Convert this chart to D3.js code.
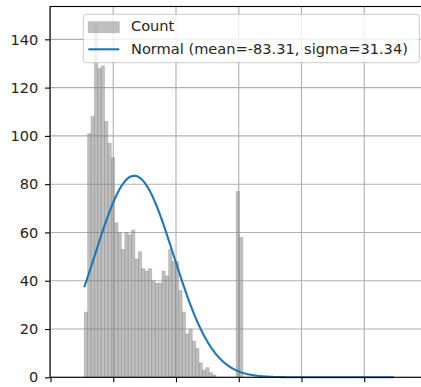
<!DOCTYPE html>
<html>
<head>
<meta charset="utf-8">
<script src="https://cdn.jsdelivr.net/npm/d3@7"></script>
<style>
  html, body { margin: 0; padding: 0; background: #fff; }
  svg { display: block; }
  text { font-family: "DejaVu Sans", sans-serif; fill: #262626; }
</style>
</head>
<body>
<div id="chart"></div>
<script>
// Histogram bin range and counts
const binStart = -123.1;
const binEnd = 3.3;
const counts = [
  27, 101, 108, 146, 128, 129, 106, 97, 91, 64,
  60, 53, 60, 59, 61, 49, 52, 45, 44, 45,
  40, 39, 39, 44, 42, 53, 48, 48, 36, 27,
  18, 20, 15, 12, 6, 3, 4, 2, 1, 0,
  0, 0, 0, 0, 0, 77, 58
];

// Fitted normal curve
const mean = -83.31;
const sigma = 31.34;
const curvePeak = 83.5;
const curveStart = -123.1;
const curveEnd = 123.6;

// Axis ticks
const xTicks = [-150, -100, -50, 0, 50, 100, 150];
const yTicks = [0, 20, 40, 60, 80, 100, 120, 140];

const legendLabels = ["Count", `Normal (mean=${mean.toFixed(2)}, sigma=${sigma.toFixed(2)})`];

const W = 421, H = 387;
const plot = { left: 50, top: 6.5, right: 427.5, bottom: 377.3 };

const svg = d3.select("#chart").append("svg")
  .attr("width", W).attr("height", H);

const x = d3.scaleLinear().domain([-150.4, 150.4]).range([plot.left, plot.right]);
const y = d3.scaleLinear().domain([0, 153.6]).range([plot.bottom, plot.top]);

// Grid
const grid = svg.append("g").attr("class", "grid");
grid.selectAll("line.gx").data(xTicks).join("line")
  .attr("x1", d => x(d)).attr("x2", d => x(d))
  .attr("y1", plot.top).attr("y2", plot.bottom)
  .attr("stroke", "#b0b0b0").attr("stroke-width", 1.1);
grid.selectAll("line.gy").data(yTicks).join("line")
  .attr("x1", plot.left).attr("x2", plot.right)
  .attr("y1", d => y(d)).attr("y2", d => y(d))
  .attr("stroke", "#b0b0b0").attr("stroke-width", 1.1);

// Histogram bars
const binW = (binEnd - binStart) / counts.length;
const bins = counts.map((c, i) => ({ x0: binStart + i * binW, x1: binStart + (i + 1) * binW, c }));
svg.append("g").selectAll("rect").data(bins.filter(b => b.c > 0)).join("rect")
  .attr("x", d => x(d.x0))
  .attr("width", d => x(d.x1) - x(d.x0))
  .attr("y", d => y(d.c))
  .attr("height", d => y(0) - y(d.c))
  .attr("fill", "#808080").attr("fill-opacity", 0.5)
  .attr("stroke", "#808080").attr("stroke-opacity", 0.35).attr("stroke-width", 0.8);

// Normal curve
const nPts = 200;
const curve = d3.range(nPts).map(i => {
  const v = curveStart + (curveEnd - curveStart) * i / (nPts - 1);
  return [v, curvePeak * Math.exp(-0.5 * ((v - mean) / sigma) ** 2)];
});
svg.append("path").datum(curve)
  .attr("fill", "none").attr("stroke", "#1f77b4").attr("stroke-width", 2.1)
  .attr("d", d3.line().x(d => x(d[0])).y(d => y(d[1])));

// Axes
const yAxis = svg.append("g").attr("transform", `translate(${plot.left},0)`)
  .call(d3.axisLeft(y).tickValues(yTicks).tickSize(5).tickPadding(6.7).tickFormat(d3.format("d")));
const xAxis = svg.append("g").attr("transform", `translate(0,${plot.bottom})`)
  .call(d3.axisBottom(x).tickValues(xTicks).tickSize(5).tickFormat(""));
[yAxis, xAxis].forEach(g => {
  g.select(".domain").remove();
  g.selectAll(".tick line").attr("stroke", "#000").attr("stroke-width", 1.1);
  g.selectAll("text").attr("font-size", 14.6).attr("fill", "#262626")
    .style("font-family", "'DejaVu Sans', sans-serif");
});

// Spines
svg.append("rect")
  .attr("x", plot.left).attr("y", plot.top)
  .attr("width", plot.right - plot.left).attr("height", plot.bottom - plot.top)
  .attr("fill", "none").attr("stroke", "#000").attr("stroke-width", 1.1);

// Legend
const lg = svg.append("g");
lg.append("rect")
  .attr("x", 83.3).attr("y", 14.3).attr("width", 336).attr("height", 48.4)
  .attr("rx", 3).attr("fill", "#fff").attr("fill-opacity", 0.8)
  .attr("stroke", "#cccccc").attr("stroke-width", 1);
lg.append("rect")
  .attr("x", 88.3).attr("y", 21.7).attr("width", 31).attr("height", 11)
  .attr("fill", "#808080").attr("fill-opacity", 0.5)
  .attr("stroke", "#808080").attr("stroke-opacity", 0.35).attr("stroke-width", 0.8);
lg.append("line")
  .attr("x1", 88.3).attr("x2", 119.3).attr("y1", 49.3).attr("y2", 49.3)
  .attr("stroke", "#1f77b4").attr("stroke-width", 2.1);
lg.selectAll("text.lbl").data(legendLabels).join("text")
  .attr("x", 131).attr("y", (d, i) => [27.0, 49.6][i])
  .attr("dominant-baseline", "middle")
  .attr("font-size", 14.6)
  .text(d => d);
</script>
</body>
</html>
